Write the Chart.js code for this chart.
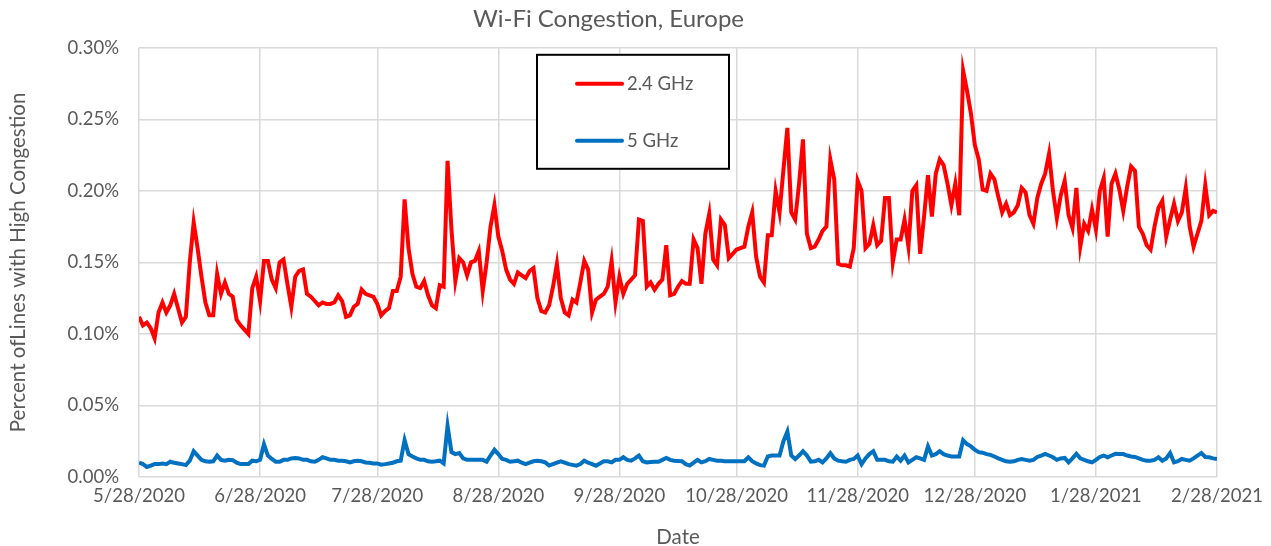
<!DOCTYPE html>
<html>
<head>
<meta charset="utf-8">
<title>Wi-Fi Congestion, Europe</title>
<script src="https://cdn.jsdelivr.net/npm/chart.js@4.4.1/dist/chart.umd.min.js"></script>
<style>
  html, body { margin: 0; padding: 0; background: #fff; }
</style>
</head>
<body>
<canvas id="wifiChart" width="1271" height="546"></canvas>
<script>
// daily values, 5/28/2020 .. 2/28/2021 (percent of lines)
var ghz24 = [
  0.112, 0.106, 0.108, 0.104, 0.097, 0.115, 0.122, 0.115, 0.120, 0.128,
  0.118, 0.108, 0.112, 0.150, 0.178, 0.160, 0.140, 0.122, 0.113, 0.113,
  0.142, 0.128, 0.136, 0.128, 0.126, 0.110, 0.106, 0.103, 0.100, 0.132,
  0.140, 0.123, 0.151, 0.151, 0.138, 0.132, 0.150, 0.152, 0.135, 0.119,
  0.140, 0.144, 0.145, 0.128, 0.126, 0.123, 0.120, 0.122, 0.121, 0.121,
  0.122, 0.127, 0.123, 0.112, 0.113, 0.119, 0.121, 0.131, 0.128, 0.127,
  0.126, 0.121, 0.113, 0.116, 0.118, 0.130, 0.130, 0.140, 0.194, 0.160,
  0.142, 0.133, 0.132, 0.137, 0.127, 0.120, 0.118, 0.134, 0.133, 0.221,
  0.173, 0.137, 0.153, 0.150, 0.141, 0.150, 0.151, 0.158, 0.130, 0.150,
  0.175, 0.190, 0.168, 0.158, 0.145, 0.138, 0.135, 0.143, 0.141, 0.139,
  0.144, 0.146, 0.125, 0.116, 0.115, 0.120, 0.133, 0.149, 0.125, 0.115,
  0.113, 0.124, 0.122, 0.136, 0.151, 0.145, 0.115, 0.124, 0.126, 0.128,
  0.133, 0.151, 0.122, 0.140, 0.128, 0.135, 0.138, 0.141, 0.180, 0.179,
  0.133, 0.136, 0.131, 0.135, 0.138, 0.162, 0.127, 0.128, 0.133, 0.137,
  0.135, 0.135, 0.166, 0.160, 0.135, 0.170, 0.184, 0.152, 0.148, 0.180,
  0.176, 0.153, 0.156, 0.159, 0.160, 0.161, 0.175, 0.185, 0.154, 0.140,
  0.136, 0.169, 0.169, 0.200, 0.185, 0.215, 0.244, 0.185, 0.180, 0.205,
  0.236, 0.170, 0.160, 0.161, 0.166, 0.172, 0.175, 0.222, 0.208, 0.149,
  0.148, 0.148, 0.147, 0.160, 0.207, 0.200, 0.160, 0.163, 0.176, 0.162,
  0.165, 0.195, 0.195, 0.150, 0.166, 0.166, 0.180, 0.161, 0.200, 0.204,
  0.156, 0.182, 0.211, 0.182, 0.212, 0.222, 0.218, 0.205, 0.190, 0.205,
  0.183, 0.284, 0.270, 0.254, 0.232, 0.222, 0.201, 0.200, 0.212, 0.208,
  0.196, 0.185, 0.191, 0.183, 0.185, 0.190, 0.202, 0.199, 0.183, 0.177,
  0.195, 0.205, 0.212, 0.226, 0.200, 0.181, 0.197, 0.207, 0.183, 0.174,
  0.202, 0.161, 0.177, 0.172, 0.187, 0.173, 0.200, 0.209, 0.168, 0.205,
  0.212, 0.201, 0.186, 0.203, 0.217, 0.214, 0.175, 0.170, 0.162, 0.159,
  0.175, 0.188, 0.193, 0.168, 0.180, 0.191, 0.179, 0.185, 0.202, 0.175,
  0.161, 0.170, 0.179, 0.204, 0.183, 0.186, 0.185
];

var ghz5 = [
  0.010, 0.009, 0.007, 0.008, 0.009, 0.009, 0.0095, 0.009, 0.0107, 0.010,
  0.0095, 0.009, 0.0083, 0.0114, 0.018, 0.015, 0.012, 0.011, 0.0107, 0.011,
  0.015, 0.012, 0.0114, 0.012, 0.0118, 0.010, 0.009, 0.009, 0.009, 0.0114,
  0.011, 0.012, 0.0229, 0.015, 0.0126, 0.0107, 0.0107, 0.012, 0.012, 0.013,
  0.0133, 0.013, 0.012, 0.012, 0.011, 0.0107, 0.012, 0.0138, 0.013, 0.012,
  0.012, 0.0114, 0.0114, 0.011, 0.0102, 0.011, 0.0114, 0.011, 0.0102, 0.010,
  0.0095, 0.0095, 0.0086, 0.009, 0.0095, 0.010, 0.011, 0.0114, 0.0257, 0.016,
  0.0143, 0.013, 0.012, 0.012, 0.011, 0.0107, 0.011, 0.0114, 0.0095, 0.0357,
  0.0174, 0.016, 0.0167, 0.013, 0.012, 0.012, 0.012, 0.012, 0.012, 0.0107,
  0.015, 0.019, 0.016, 0.0126, 0.012, 0.0107, 0.011, 0.0114, 0.010, 0.009,
  0.010, 0.011, 0.0114, 0.011, 0.0102, 0.008, 0.009, 0.010, 0.011, 0.010,
  0.009, 0.0085, 0.0079, 0.009, 0.0114, 0.010, 0.009, 0.0079, 0.0095, 0.011,
  0.011, 0.0102, 0.012, 0.012, 0.0138, 0.012, 0.0114, 0.013, 0.015, 0.011,
  0.0102, 0.0105, 0.0107, 0.0107, 0.012, 0.0133, 0.012, 0.0114, 0.0112, 0.011,
  0.009, 0.008, 0.010, 0.012, 0.0102, 0.011, 0.0126, 0.012, 0.0114, 0.0114,
  0.011, 0.011, 0.011, 0.011, 0.011, 0.011, 0.0138, 0.011, 0.0095, 0.0083,
  0.008, 0.0143, 0.015, 0.015, 0.015, 0.025, 0.0317, 0.015, 0.0126, 0.015,
  0.018, 0.015, 0.0107, 0.011, 0.012, 0.0102, 0.013, 0.0167, 0.013, 0.0114,
  0.011, 0.0107, 0.012, 0.0126, 0.015, 0.009, 0.013, 0.016, 0.018, 0.012,
  0.012, 0.012, 0.011, 0.0107, 0.0143, 0.0114, 0.015, 0.0102, 0.012, 0.0138,
  0.013, 0.012, 0.0214, 0.015, 0.016, 0.018, 0.016, 0.015, 0.0143, 0.0143,
  0.0143, 0.0257, 0.023, 0.0214, 0.019, 0.0174, 0.017, 0.016, 0.0155, 0.0143,
  0.013, 0.012, 0.011, 0.0107, 0.011, 0.012, 0.0126, 0.012, 0.0114, 0.012,
  0.014, 0.015, 0.0162, 0.015, 0.0138, 0.012, 0.013, 0.0133, 0.0102, 0.013,
  0.0162, 0.013, 0.012, 0.011, 0.0102, 0.012, 0.014, 0.015, 0.0138, 0.015,
  0.0162, 0.016, 0.016, 0.015, 0.0143, 0.014, 0.013, 0.012, 0.0114, 0.0114,
  0.012, 0.0138, 0.0114, 0.013, 0.0167, 0.0102, 0.011, 0.0126, 0.012, 0.0114,
  0.013, 0.015, 0.0167, 0.014, 0.0138, 0.013, 0.0126
];

// x axis: day offset from 5/28/2020 for each month tick
var tickDays   = [0, 31, 61, 92, 123, 153, 184, 214, 245, 276];
var tickLabels = ['5/28/2020', '6/28/2020', '7/28/2020', '8/28/2020', '9/28/2020',
                  '10/28/2020', '11/28/2020', '12/28/2020', '1/28/2021', '2/28/2021'];

var textColor = '#595959';
var gridColor = '#d9d9d9';
var fontFamily = 'Lato, "Open Sans", sans-serif';

var toPoints = function(arr) {
    return arr.map(function(v, i) { return { x: i, y: v }; });
};

// boxed legend sitting inside the plot area, like the Excel one
var boxLegend = {
    id: 'boxLegend',
    afterDatasetsDraw: function(chart, args, opts) {
        var ctx  = chart.ctx;
        var area = chart.chartArea;
        var x = area.left + opts.left;
        var y = area.top + opts.top;
        ctx.save();
        ctx.fillStyle = '#ffffff';
        ctx.fillRect(x, y, opts.width, opts.height);
        ctx.strokeStyle = '#000000';
        ctx.lineWidth = 2;
        ctx.strokeRect(x, y, opts.width, opts.height);
        ctx.font = opts.font;
        ctx.textBaseline = 'middle';
        chart.data.datasets.forEach(function(ds, i) {
            var ly = y + opts.firstRow + i * opts.rowGap;
            ctx.strokeStyle = ds.borderColor;
            ctx.lineWidth = ds.borderWidth;
            ctx.lineCap = 'round';
            ctx.beginPath();
            ctx.moveTo(x + opts.lineStart, ly);
            ctx.lineTo(x + opts.lineStart + opts.lineLength, ly);
            ctx.stroke();
            ctx.fillStyle = textColor;
            ctx.fillText(ds.label, x + opts.lineStart + opts.lineLength + 5, ly);
        });
        ctx.restore();
    }
};

var wifiChart = new Chart(document.getElementById('wifiChart'), {
    type: 'line',
    data: {
        datasets: [{
            label: '2.4 GHz',
            data: toPoints(ghz24),
            borderColor: '#ff0000',
            borderWidth: 4,
            pointRadius: 0,
            tension: 0
        }, {
            label: '5 GHz',
            data: toPoints(ghz5),
            borderColor: '#0070c0',
            borderWidth: 4,
            pointRadius: 0,
            tension: 0
        }]
    },
    plugins: [boxLegend],
    options: {
        responsive: false,
        animation: false,
        layout: { padding: { left: 0, right: 54, top: 0, bottom: 0 } },
        plugins: {
            legend: { display: false },
            tooltip: { enabled: false },
            title: {
                display: true,
                text: 'Wi-Fi Congestion, Europe',
                color: textColor,
                font: { family: fontFamily, size: 24, weight: 'normal' },
                padding: { top: 5, bottom: 14 }
            },
            boxLegend: {
                left: 398, top: 7, width: 192, height: 114,
                firstRow: 29, rowGap: 57,
                lineStart: 40, lineLength: 45,
                font: '18.5px ' + fontFamily
            }
        },
        scales: {
            x: {
                type: 'linear',
                min: 0,
                max: 276,
                afterBuildTicks: function(scale) {
                    scale.ticks = tickDays.map(function(d) { return { value: d }; });
                },
                afterFit: function(scale) { scale.height = 69; },
                ticks: {
                    autoSkip: false,
                    maxRotation: 0,
                    padding: 8,
                    color: textColor,
                    font: { family: fontFamily, size: 18.5 },
                    callback: function(v) { return tickLabels[tickDays.indexOf(v)]; }
                },
                grid: { color: gridColor, lineWidth: 1.5, drawTicks: false },
                border: { display: false },
                title: {
                    display: true,
                    text: 'Date',
                    color: textColor,
                    font: { family: fontFamily, size: 20.5 },
                    padding: { top: 10, bottom: -4 }
                }
            },
            y: {
                min: 0,
                max: 0.3,
                afterFit: function(scale) { scale.width = 139; },
                ticks: {
                    stepSize: 0.05,
                    padding: 20,
                    color: textColor,
                    font: { family: fontFamily, size: 18.5 },
                    callback: function(v) { return v.toFixed(2) + '%'; }
                },
                grid: { color: gridColor, lineWidth: 1.5, drawTicks: false },
                border: { display: false },
                title: {
                    display: true,
                    text: 'Percent ofLines with High Congestion',
                    color: textColor,
                    font: { family: fontFamily, size: 20.5 },
                    padding: { top: 6, bottom: 0 }
                }
            }
        }
    }
});
</script>
</body>
</html>
